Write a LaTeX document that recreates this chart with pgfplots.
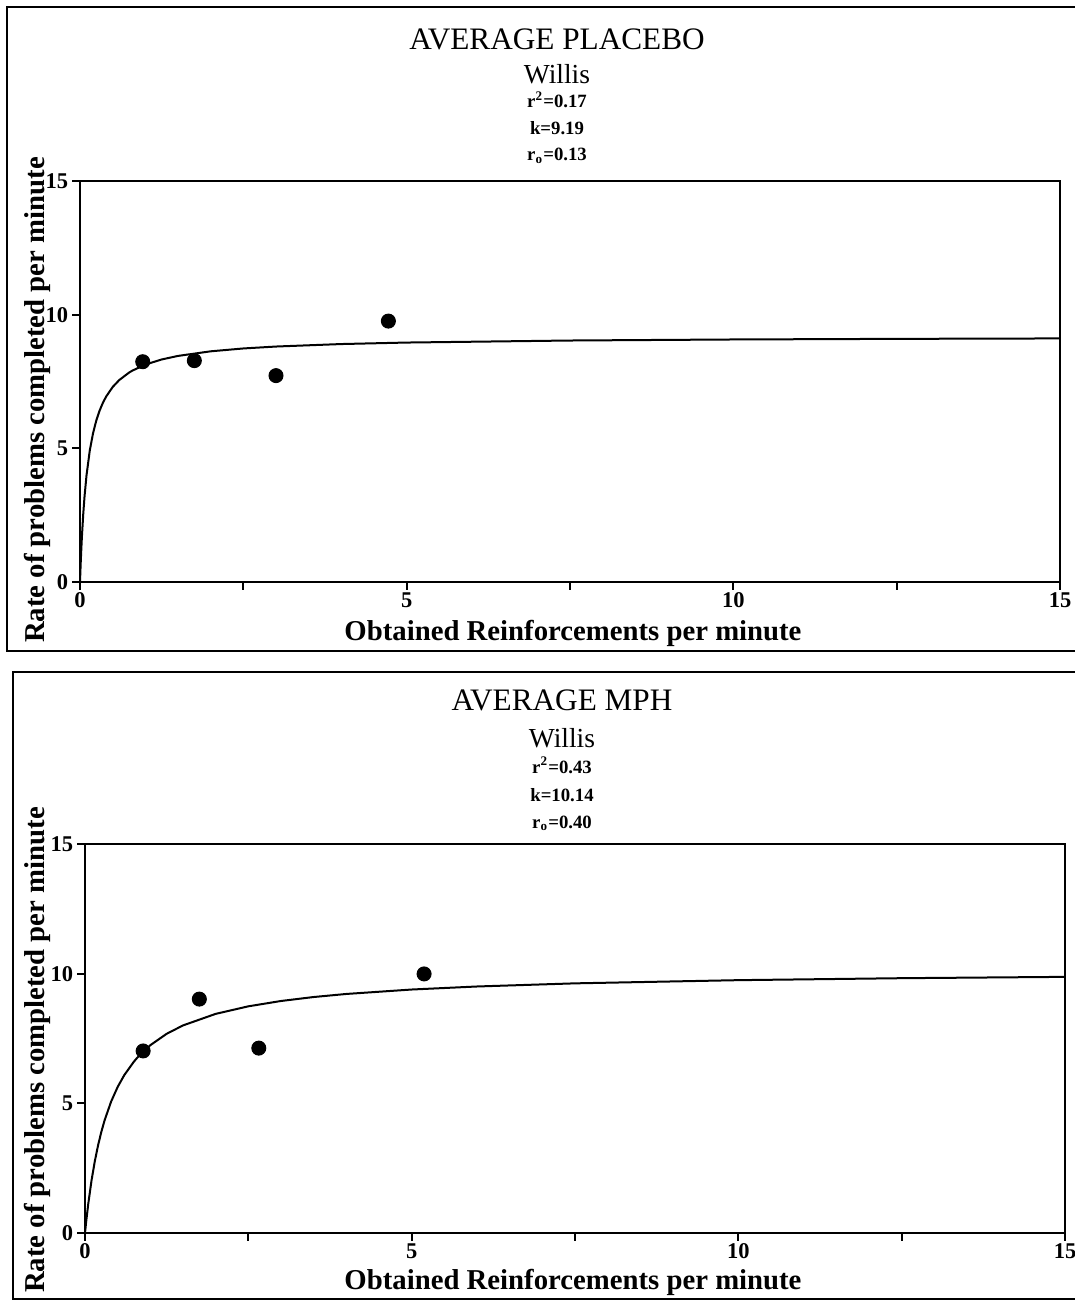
\documentclass[border=0pt]{standalone}
\usepackage{pgfplots}
\pgfplotsset{compat=1.18}
\usepackage{fontspec}
\setmainfont{Liberation Serif}

% observed points and fitted hyperbola (k, r_o from the panel headers)
\pgfplotstableread{
r R
0.96 8.24
1.75 8.28
3.00 7.72
4.72 9.76
}\placebopts
\pgfplotstableread{
r R
0.00 0.000
0.01 0.656
0.02 1.225
0.03 1.723
0.05 2.553
0.07 3.217
0.10 3.996
0.15 4.923
0.20 5.570
0.25 6.046
0.30 6.412
0.35 6.701
0.40 6.936
0.50 7.294
0.60 7.553
0.75 7.832
0.80 7.905
1.00 8.133
1.25 8.324
1.50 8.457
2.00 8.629
2.50 8.736
3.00 8.808
4.00 8.901
5.00 8.957
7.50 9.033
10.0 9.072
12.5 9.095
15.0 9.111
}\placebofit
\pgfplotstableread{
r R
0.89 7.02
1.75 9.02
2.66 7.13
5.19 9.99
}\mphpts
\pgfplotstableread{
r R
0.00 0.000
0.02 0.483
0.05 1.127
0.10 2.028
0.15 2.765
0.20 3.380
0.25 3.900
0.30 4.346
0.40 5.070
0.50 5.633
0.60 6.084
0.75 6.613
0.80 6.760
1.00 7.243
1.25 7.682
1.50 8.005
2.00 8.450
2.50 8.741
3.00 8.947
3.50 9.100
4.00 9.218
5.00 9.389
6.00 9.506
7.50 9.627
10.0 9.750
12.5 9.826
15.0 9.877
}\mphfit

\pgfplotsset{panel/.style={
  scale only axis, width=392pt,
  xmin=0, xmax=15, ymin=0, ymax=15,
  xtick={0,5,10,15}, minor xtick={2.5,7.5,12.5},
  ytick={0,5,10,15},
  xtick pos=bottom, ytick pos=left,
  tick align=outside,
  major tick length=3pt, minor tick length=3pt,
  axis line style={line width=0.8pt},
  every tick/.style={black, line width=0.8pt},
  /pgf/number format/assume math mode=true,
  ticklabel style={font=\bfseries\fontsize{9}{9}\selectfont},
  xticklabel style={inner sep=1pt},
  yticklabel style={inner sep=1.5pt},
}}

\begin{document}
\begin{tikzpicture}
\useasboundingbox (0,0) rectangle (429.6pt,-521.2pt);

% ---------- top panel ----------
\draw[line width=0.8pt] (2.8pt,-2.8pt) rectangle (440pt,-260.4pt);
\node[anchor=base,font=\fontsize{12.5}{12.5}\selectfont] at (222.8pt,-20pt) {AVERAGE PLACEBO};
\node[anchor=base,font=\fontsize{11}{11}\selectfont] at (222.8pt,-33.6pt) {Willis};
\node[anchor=base,font=\bfseries\fontsize{7.5}{7.5}\selectfont] at (222.8pt,-43.2pt) {r\textsuperscript{2}=0.17};
\node[anchor=base,font=\bfseries\fontsize{7.5}{7.5}\selectfont] at (222.8pt,-54pt) {k=9.19};
\node[anchor=base,font=\bfseries\fontsize{7.5}{7.5}\selectfont] at (222.8pt,-64.4pt) {r\textsubscript{o}=0.13};

\begin{axis}[panel, height=160.4pt, at={(32pt,-232.8pt)}, anchor=south west]
\addplot[black, line width=0.8pt] table[x=r,y=R] {\placebofit};
\addplot[only marks, mark=*, mark size=2.8pt, black] table[x=r,y=R] {\placebopts};
\end{axis}
\node[anchor=base,font=\bfseries\fontsize{11.5}{11.5}\selectfont] at (229.2pt,-256pt) {Obtained Reinforcements per minute};
\node[rotate=90,font=\bfseries\fontsize{11.5}{11.5}\selectfont] at (14.8pt,-160pt) {Rate of problems completed per minute};

% ---------- bottom panel ----------
\draw[line width=0.8pt] (5.2pt,-268.8pt) rectangle (440pt,-519.6pt);
\node[anchor=base,font=\fontsize{12.5}{12.5}\selectfont] at (224.8pt,-284pt) {AVERAGE MPH};
\node[anchor=base,font=\fontsize{11}{11}\selectfont] at (224.8pt,-298.8pt) {Willis};
\node[anchor=base,font=\bfseries\fontsize{7.5}{7.5}\selectfont] at (224.8pt,-309.2pt) {r\textsuperscript{2}=0.43};
\node[anchor=base,font=\bfseries\fontsize{7.5}{7.5}\selectfont] at (224.8pt,-320.4pt) {k=10.14};
\node[anchor=base,font=\bfseries\fontsize{7.5}{7.5}\selectfont] at (224.8pt,-331.2pt) {r\textsubscript{o}=0.40};

\begin{axis}[panel, height=155.6pt, at={(34pt,-493.2pt)}, anchor=south west]
\addplot[black, line width=0.8pt] table[x=r,y=R] {\mphfit};
\addplot[only marks, mark=*, mark size=2.8pt, black] table[x=r,y=R] {\mphpts};
\end{axis}
\node[anchor=base,font=\bfseries\fontsize{11.5}{11.5}\selectfont] at (229.2pt,-515.6pt) {Obtained Reinforcements per minute};
\node[rotate=90,font=\bfseries\fontsize{11.5}{11.5}\selectfont] at (14.8pt,-420pt) {Rate of problems completed per minute};
\end{tikzpicture}
\end{document}
